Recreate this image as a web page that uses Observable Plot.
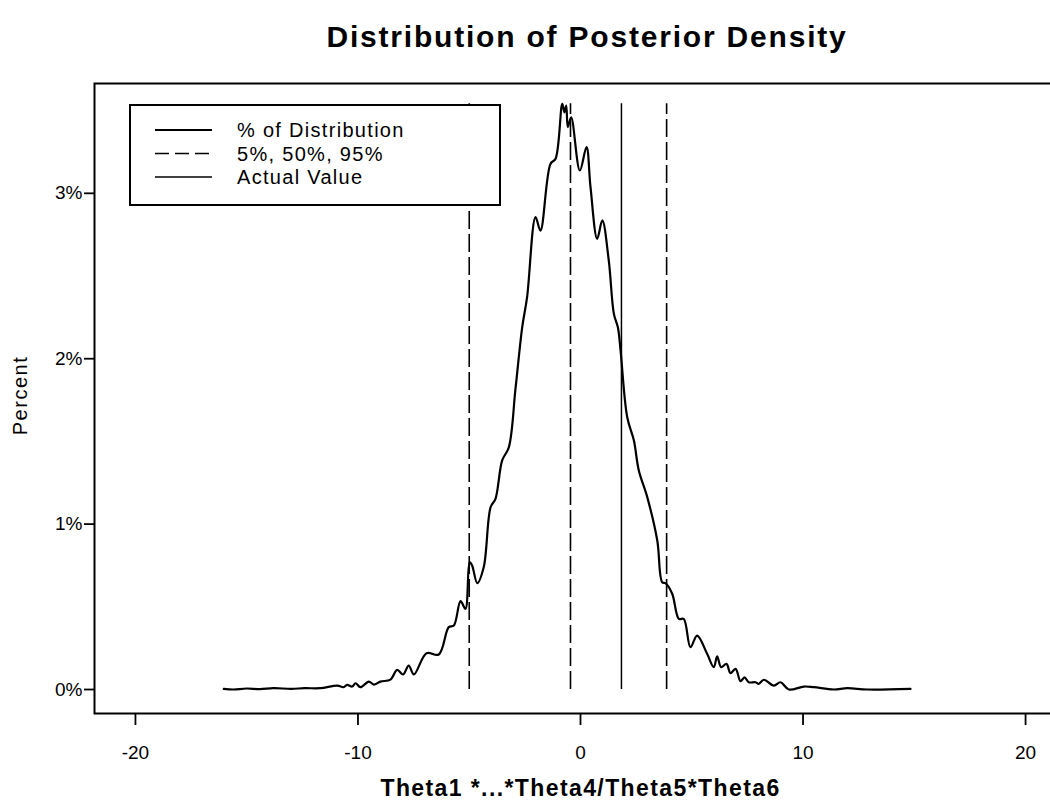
<!DOCTYPE html>
<html>
<head>
<meta charset="utf-8">
<script src="https://cdn.jsdelivr.net/npm/d3@7"></script>
<script src="https://cdn.jsdelivr.net/npm/@observablehq/plot@0.6"></script>
<style>
  html, body { margin: 0; padding: 0; background: #fff; }
  #wrap { position: relative; width: 1050px; height: 808px; overflow: hidden; font-family: "Liberation Sans", Arial, sans-serif; color: #000; }
  #title { position: absolute; top: 20px; left: 124px; width: 926px; text-align: center; font-weight: bold; font-size: 30px; letter-spacing: 1.8px; }
  #chart { position: absolute; top: 60px; left: 0; }
  #legend { position: absolute; left: 129px; top: 104px; width: 368px; height: 98px; border: 2px solid #000; background: #fff; }
  #legend svg { position: absolute; left: 0; top: 0; }
</style>
</head>
<body>
<div id="wrap">
  <div id="title"></div>
  <div id="chart"></div>
  <div id="legend"></div>
</div>
<script>
// ---- data ----
const titleText = "Distribution of Posterior Density";
const xTitle = "Theta1 *...*Theta4/Theta5*Theta6";
const yTitle = "Percent";

// posterior density curve: x values and percent of distribution
const curveX = [-16.03,-15.6,-15.0,-14.4,-13.8,-13.0,-12.4,-11.69,-10.93,-10.65,-10.49,-10.26,-10.11,-9.89,-9.51,-9.29,-8.99,-8.54,-8.24,-7.97,-7.72,-7.49,-6.92,-6.37,-5.92,-5.69,-5.39,-5.17,-4.98,-4.87,-4.64,-4.35,-4.04,-3.82,-3.52,-3.22,-2.92,-2.62,-2.40,-2.02,-1.80,-1.35,-1.12,-0.82,-0.72,-0.64,-0.57,-0.42,-0.03,0.27,0.45,0.75,0.98,1.27,1.50,1.68,1.80,2.10,2.40,2.62,3.00,3.45,3.67,3.82,4.12,4.42,4.64,4.94,5.24,5.69,5.99,6.14,6.32,6.56,6.74,6.97,7.19,7.37,7.56,7.87,8.01,8.24,8.69,8.99,9.36,10.04,10.49,11.38,11.99,12.89,14.83];
const curveY = [0.004,0.0,0.006,0.002,0.008,0.004,0.008,0.008,0.024,0.014,0.028,0.018,0.038,0.014,0.048,0.030,0.048,0.060,0.119,0.091,0.145,0.091,0.219,0.212,0.377,0.387,0.534,0.488,0.770,0.750,0.643,0.739,1.102,1.153,1.385,1.465,1.820,2.190,2.372,2.856,2.775,3.178,3.209,3.541,3.490,3.531,3.400,3.460,3.138,3.279,3.037,2.725,2.836,2.594,2.271,2.190,2.050,1.646,1.505,1.324,1.163,0.901,0.649,0.643,0.579,0.427,0.427,0.256,0.326,0.216,0.135,0.200,0.135,0.155,0.099,0.125,0.050,0.074,0.044,0.044,0.034,0.059,0.024,0.044,0.0,0.018,0.014,0.0,0.008,0.0,0.004];

// 5%, 50%, 95% quantiles and the actual value
const quantileLabels = ["5%", "50%", "95%"];
const quantileValues = [-5.0, -0.45, 3.87];
const actualValue = [1.84];

// axis ticks
const xTicks = [-20, -10, 0, 10, 20];
const yTicks = [0, 1, 2, 3];
const xDomain = [-21.84, 21.84];
const yDomain = [-0.145, 3.664];

// legend entries
const legendLabels = ["% of Distribution", "5%, 50%, 95%", "Actual Value"];

// ---- build ----
const curve = curveX.map((x, i) => ({x, y: curveY[i]}));
const peak = d3.max(curveY);
const quantiles = quantileValues.map((v, i) => ({label: quantileLabels[i], x: v}));

document.getElementById("title").textContent = titleText;

const chart = Plot.plot({
  width: 1050,
  height: 748,
  marginTop: 23,
  marginLeft: 94,
  marginRight: -16,
  marginBottom: 95,
  style: {fontFamily: "'Liberation Sans', Arial, sans-serif", fontSize: "19px", color: "#000", background: "#fff"},
  x: {domain: xDomain, label: null},
  y: {domain: yDomain, label: null},
  marks: [
    Plot.axisX({ticks: xTicks, tickSize: 12, tickPadding: 20, strokeWidth: 1.8, label: null, tickFormat: d => String(d), fontSize: 19}),
    Plot.axisY({ticks: yTicks, tickSize: 10, tickPadding: 2, strokeWidth: 1.8, label: null, tickFormat: d => d + "%", fontSize: 19}),
    Plot.ruleX(quantiles, {x: "x", y1: 0, y2: peak, stroke: "#000", strokeWidth: 1.6, strokeDasharray: "18,5"}),
    Plot.ruleX(actualValue, {y1: 0, y2: peak, stroke: "#000", strokeWidth: 1.5}),
    Plot.line(curve, {x: "x", y: "y", stroke: "#000", strokeWidth: 2.2, curve: "catmull-rom"}),
    Plot.frame({stroke: "#000", strokeWidth: 2}),
    Plot.text([yTitle], {frameAnchor: "left", dx: -74, dy: -3, rotate: -90, textAnchor: "middle", fontSize: 20}),
    Plot.text([xTitle], {frameAnchor: "bottom", dy: 82, textAnchor: "middle", fontSize: 23, fontWeight: "bold"})
  ]
});
// widen the axis titles to match the reference spacing
d3.select(chart).selectAll("text").filter(function() { return this.textContent === xTitle; })
  .style("letter-spacing", "1.4px");
d3.select(chart).selectAll("text").filter(function() { return this.textContent === yTitle; })
  .style("letter-spacing", "1.5px");
document.getElementById("chart").appendChild(chart);

// legend (HTML overlay box with line samples)
const lg = d3.select("#legend").append("svg").attr("width", 368).attr("height", 98);
const styles = [
  {w: 2.2, dash: null},
  {w: 1.6, dash: "14,6"},
  {w: 1.5, dash: null}
];
legendLabels.forEach((t, i) => {
  const cy = 24 + i * 23.5;
  lg.append("line").attr("x1", 24).attr("x2", 81).attr("y1", cy).attr("y2", cy)
    .attr("stroke", "#000").attr("stroke-width", styles[i].w)
    .attr("stroke-dasharray", styles[i].dash);
  lg.append("text").attr("x", 106).attr("y", cy).attr("dy", "0.35em")
    .attr("font-family", "'Liberation Sans', Arial, sans-serif").attr("font-size", 20)
    .style("letter-spacing", "1.3px")
    .text(t);
});
</script>
</body>
</html>
